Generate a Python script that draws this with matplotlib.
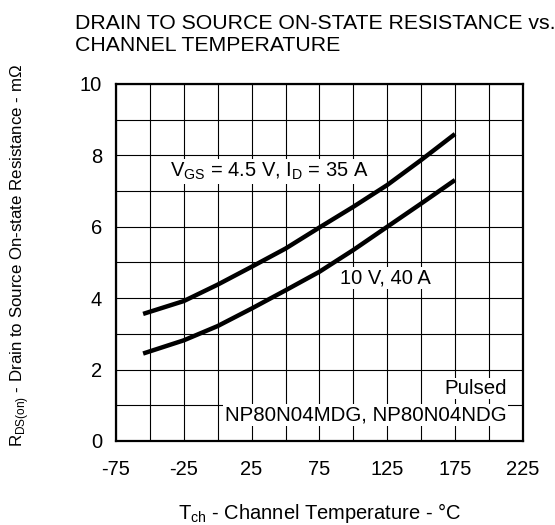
import numpy as np
import matplotlib
matplotlib.use('Agg')
import matplotlib.pyplot as plt

plt.rcParams['font.family'] = ['Liberation Sans', 'DejaVu Sans']
plt.rcParams['mathtext.fontset'] = 'custom'
plt.rcParams['mathtext.rm'] = 'Liberation Sans'
plt.rcParams['axes.unicode_minus'] = False

# Channel temperature (deg C) and on-resistance (mOhm)
temp = [-55, -25, 0, 25, 50, 75, 100, 125, 150, 175]
r_45v = [3.56, 3.92, 4.38, 4.88, 5.39, 5.98, 6.56, 7.17, 7.87, 8.60]
r_10v = [2.45, 2.82, 3.22, 3.71, 4.22, 4.74, 5.35, 6.00, 6.65, 7.31]

x_ticks = [-75, -25, 25, 75, 125, 175, 225]
y_ticks = [0, 2, 4, 6, 8, 10]

W, H = 555, 525
fig = plt.figure(figsize=(W / 100, H / 100), dpi=100)
ax = fig.add_axes([0.209, 0.16, 0.733, 0.68])

ax.plot(temp, r_45v, color='black', lw=3.2, solid_capstyle='butt')
ax.plot(temp, r_10v, color='black', lw=3.2, solid_capstyle='butt')

ax.set_xlim(-75, 225)
ax.set_ylim(0, 10)
ax.set_xticks(x_ticks)
ax.set_yticks(y_ticks)
ax.set_xticks(np.arange(-75, 226, 25), minor=True)
ax.set_yticks(np.arange(0, 11, 1), minor=True)
ax.grid(True, which='both', color='black', lw=0.8)
ax.tick_params(which='both', length=0, labelsize=14.5)
ax.tick_params(axis='x', pad=14)
ax.tick_params(axis='y', pad=10)
for s in ax.spines.values():
    s.set_linewidth(1.6)

box = dict(facecolor='white', edgecolor='none', pad=1)
ax.text(-35, 7.55, r'V$_{\mathregular{GS}}$ = 4.5 V, I$_{\mathregular{D}}$ = 35 A',
        fontsize=14.5, va='center', ha='left', bbox=box)
ax.text(90, 4.57, '10 V, 40 A', fontsize=14.5, va='center', ha='left', bbox=box)
ax.text(213, 1.47, 'Pulsed', fontsize=14.8, va='center', ha='right', bbox=box)
ax.text(213, 0.72, 'NP80N04MDG, NP80N04NDG', fontsize=14.8, va='center',
        ha='right', bbox=box)

# axis titles placed on the figure so they sit where the reference has them
fig.text(320 / W, 1 - 519 / H, r'T$_{\mathregular{ch}}$ - Channel Temperature - °C',
         fontsize=14.5, ha='center', va='baseline')
fig.text(20 / W, 1 - 255 / H,
         r'R$_{\mathregular{DS(on)}}$ - Drain to Source On-state Resistance - mΩ',
         fontsize=12.2, ha='center', va='center', rotation=90)

fig.text(0.135, 0.935, 'DRAIN TO SOURCE ON-STATE RESISTANCE vs.\nCHANNEL TEMPERATURE',
         fontsize=15.3, ha='left', va='center', linespacing=1.2)

fig.savefig('out.png', dpi=100)
